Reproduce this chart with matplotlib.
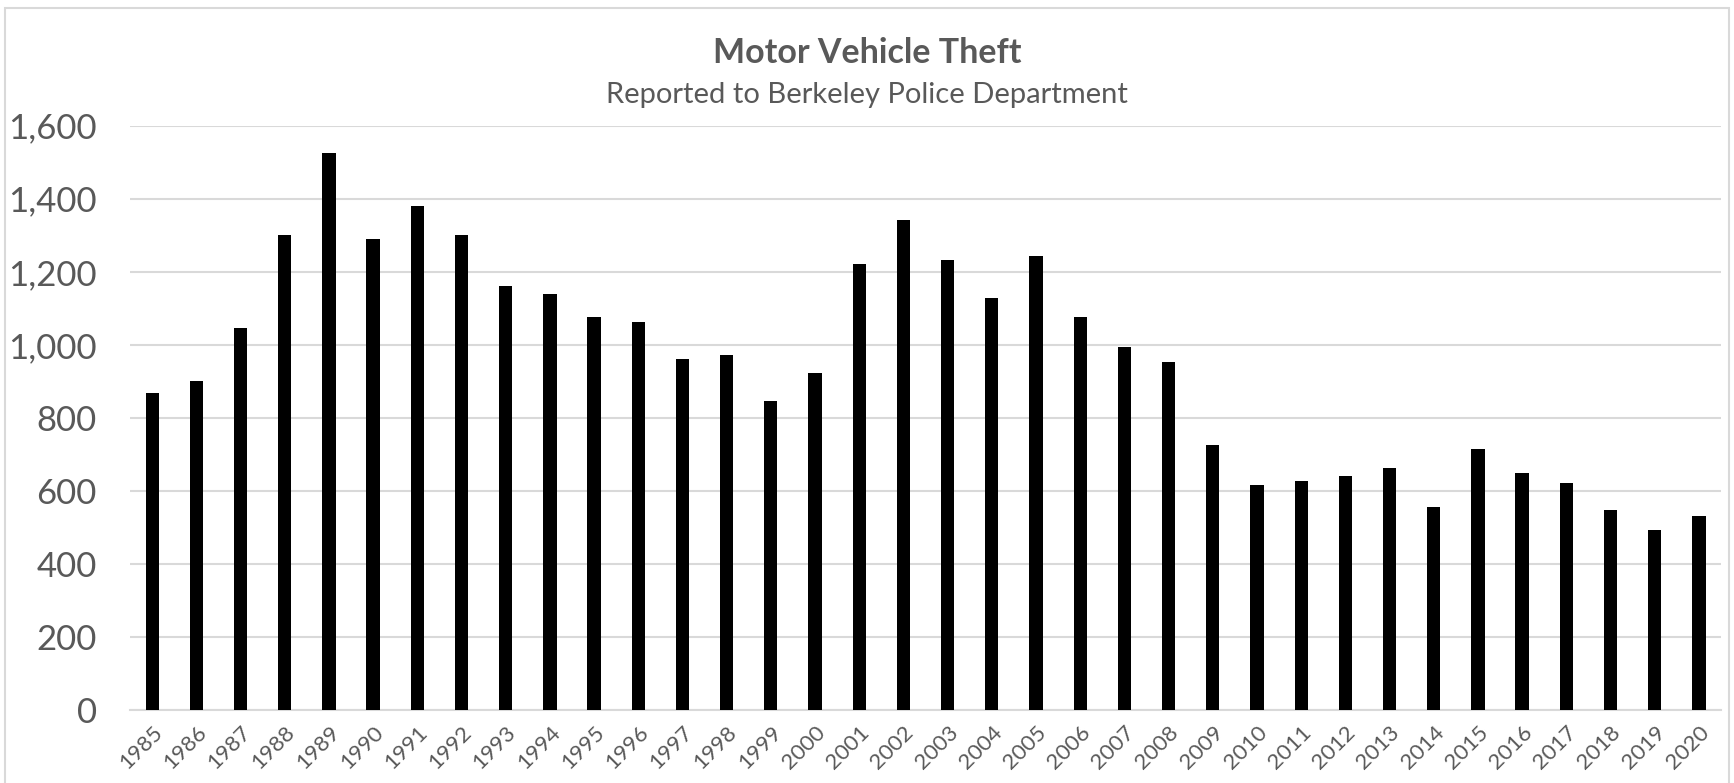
import matplotlib.pyplot as plt
from matplotlib.patches import Rectangle

years = [str(y) for y in range(1985, 2021)]
thefts = [868, 901, 1046, 1300, 1524, 1289, 1379, 1302, 1161, 1140,
          1076, 1062, 960, 971, 845, 922, 1220, 1342, 1233, 1127,
          1243, 1077, 994, 953, 727, 615, 628, 641, 664, 555,
          716, 649, 621, 547, 492, 532]
yticks = [0, 200, 400, 600, 800, 1000, 1200, 1400, 1600]

plt.rcParams['font.family'] = ['Lato', 'DejaVu Sans']
txt = '#595959'
grid = '#d9d9d9'

fig = plt.figure(figsize=(17.34, 7.83), dpi=100)
ax = fig.add_axes([0.075, 0.0932, 0.9175, 0.7463])

x = range(len(years))
ax.bar(x, thefts, width=0.30, color='black', zorder=3)

ax.set_xlim(-0.5, len(years) - 0.5)
ax.set_ylim(0, 1600)
ax.set_yticks(yticks)
ax.set_yticklabels([f'{v:,}' for v in yticks], fontsize=25, color=txt)
ax.set_xticks(list(x))
ax.set_xticklabels(years, rotation=45, ha='right', rotation_mode='anchor',
                   fontsize=16, color=txt)
ax.tick_params(axis='both', length=0)
ax.tick_params(axis='y', pad=24)
ax.tick_params(axis='x', pad=9)
ax.grid(axis='y', color=grid, linewidth=1.5, zorder=0)
for s in ['top', 'right', 'left']:
    ax.spines[s].set_visible(False)
ax.spines['bottom'].set_color(grid)
ax.spines['bottom'].set_linewidth(1.5)

fig.text(0.5, 0.932, 'Motor Vehicle Theft', ha='center', va='center',
         fontsize=24.5, fontweight='bold', color=txt)
fig.text(0.5, 0.879, 'Reported to Berkeley Police Department', ha='center',
         va='center', fontsize=21, color=txt)

# chart border
fig.patches.append(Rectangle((0.003, -0.01), 0.994, 0.9997, transform=fig.transFigure,
                             fill=False, edgecolor=grid, linewidth=1.5))

fig.savefig('out.png', dpi=100)
